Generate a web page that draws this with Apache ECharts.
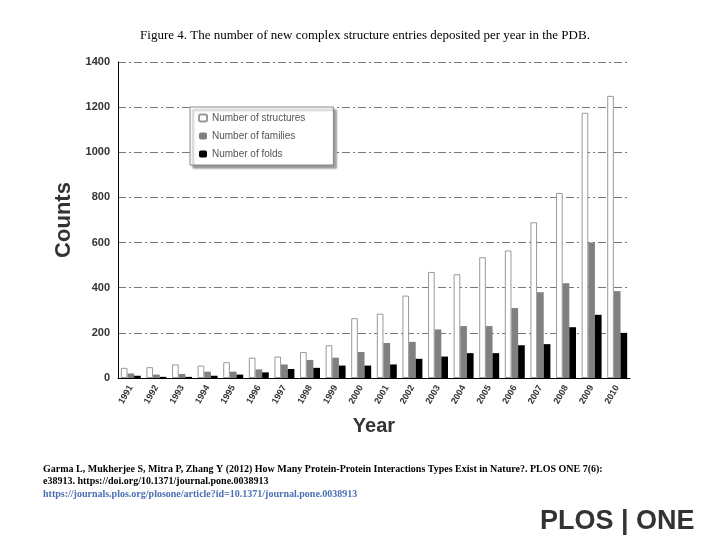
<!DOCTYPE html><html><head><meta charset="utf-8"><script src="https://cdn.jsdelivr.net/npm/echarts@6/dist/echarts.min.js"></script>
<style>body{margin:0;background:#fff}#c{width:720px;height:540px}</style></head><body><div id="c"></div><script>
const years=['1991','1992','1993','1994','1995','1996','1997','1998','1999','2000','2001','2002','2003','2004','2005','2006','2007','2008','2009','2010'];
const structures=[45,48,60,55,70,90,95,115,145,265,285,365,470,460,535,565,690,820,1175,1250];
const families=[20,15,18,28,28,38,60,80,90,115,155,160,215,230,230,310,380,420,600,385];
const folds=[10,5,5,10,15,25,40,45,55,55,60,85,95,110,110,145,150,225,280,200];
const c=echarts.init(document.getElementById('c'));
c.setOption({animation:false,
title:[{text:'Figure 4. The number of new complex structure entries deposited per year in the PDB.',left:360,top:24,textAlign:'center',textStyle:{fontFamily:'Liberation Serif',fontSize:13,fontWeight:'normal',color:'#000'}},
{text:'Garma L, Mukherjee S, Mitra P, Zhang Y (2012) How Many Protein-Protein Interactions Types Exist in Nature?. PLOS ONE 7(6):\ne38913. https://doi.org/10.1371/journal.pone.0038913',left:38,top:458,textStyle:{fontFamily:'Liberation Serif',fontSize:10,fontWeight:'bold',color:'#000',lineHeight:12}},
{text:'https://journals.plos.org/plosone/article?id=10.1371/journal.pone.0038913',left:38,top:484,textStyle:{fontFamily:'Liberation Serif',fontSize:10,color:'#4a6fb5',textDecoration:'underline'}},
{text:'PLOS | ONE',left:535,top:503,textStyle:{fontFamily:'Liberation Sans',fontSize:27,fontWeight:'bold',color:'#333'}}],
legend:{left:190,top:107,orient:'vertical',itemGap:8,itemWidth:8,itemHeight:7,padding:[6,28,6,8],backgroundColor:'#fff',borderColor:'#888',borderWidth:1,shadowColor:'rgba(0,0,0,0.4)',shadowOffsetX:3,shadowOffsetY:3,shadowBlur:2,textStyle:{fontSize:10,fontFamily:'Liberation Sans'}},
grid:{left:118,right:90,top:62,bottom:162},
xAxis:{type:'category',data:years,name:'Year',nameLocation:'middle',nameGap:38,nameTextStyle:{fontSize:20,fontWeight:'bold',color:'#333',fontFamily:'Liberation Sans'},axisLabel:{rotate:60,fontSize:9,fontWeight:'bold',color:'#333',interval:0},axisLine:{lineStyle:{color:'#000'}}},
yAxis:{type:'value',min:0,max:1400,interval:200,name:'Counts',nameLocation:'middle',nameGap:36,nameTextStyle:{fontSize:22,fontWeight:'bold',color:'#333',fontFamily:'Liberation Sans'},axisLabel:{fontSize:11,fontWeight:'bold',color:'#333',formatter:v=>String(v)},axisLine:{show:true,lineStyle:{color:'#000'}},splitLine:{lineStyle:{type:[8,3,2,3],color:'#777'}}},
series:[
{name:'Number of structures',type:'bar',data:structures,barGap:'0%',barCategoryGap:'22%',itemStyle:{color:'#fff',borderColor:'#999',borderWidth:1}},
{name:'Number of families',type:'bar',data:families,itemStyle:{color:'#808080'}},
{name:'Number of folds',type:'bar',data:folds,itemStyle:{color:'#000'}}]});
</script></body></html>
